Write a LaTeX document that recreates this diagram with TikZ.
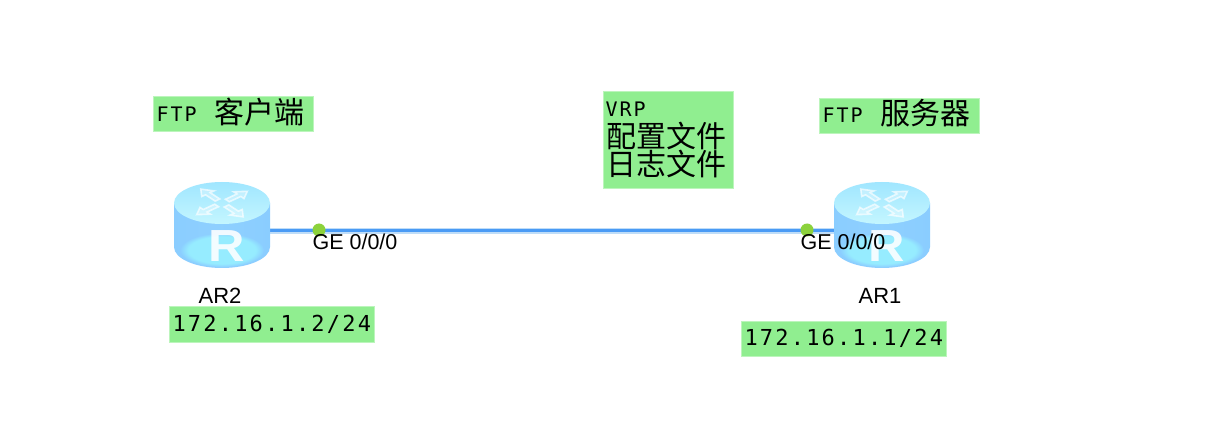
\documentclass[tikz,border=0pt]{standalone}
\usepackage{fontspec}
\usetikzlibrary{fadings}
\setmainfont{Liberation Sans}
\newfontfamily\cjk{Noto Sans CJK SC}
\newfontfamily\mono[LetterSpace=10]{DejaVu Sans Mono}
\definecolor{lab}{HTML}{90EE90}
\definecolor{portgreen}{HTML}{8CD23C}
\definecolor{linkblue}{HTML}{4A9BF5}
\definecolor{linkpale}{HTML}{BFDDF8}
\definecolor{bodyedge}{HTML}{B4E4FF}
\definecolor{bodymid}{HTML}{88CCFF}
\definecolor{bodyglow}{HTML}{96ECFF}
\definecolor{topdark}{HTML}{A0E6FF}
\definecolor{toplight}{HTML}{C4F6FF}
\pgfdeclarehorizontalshading{routerbody}{96bp}{
  color(0bp)=(bodyedge); color(8bp)=(bodymid); color(48bp)=(bodymid!85!bodyedge); color(84bp)=(bodymid); color(96bp)=(bodyedge)}
\tikzset{
  x=1pt,y=-1pt,
  tag/.style={fill=lab,draw=lab!60!white,line width=1pt,inner sep=0pt,anchor=north west,text=black},
  port/.style={circle,fill=portgreen,inner sep=0pt,minimum size=13pt},
  portlabel/.style={inner sep=0pt,font=\fontsize{21.5}{21.5}\selectfont,text=black},
  devlabel/.style={inner sep=0pt,font=\fontsize{22}{22}\selectfont,text=black},
  routerbox/.style={inner sep=0pt,minimum width=96pt,minimum height=2pt},
  routermark/.style={fill=white,fill opacity=.3,draw=white,draw opacity=.65,line width=1.6pt,line join=miter},
  routerletter/.style={inner sep=0pt,text=white,text opacity=.88,transform shape,xscale=1.12,font=\bfseries\fontsize{45}{45}\selectfont},
}
\newcommand{\routericon}[1]{%
\begin{scope}[shift={(#1,0)}]
  \shade[shading=routerbody]
    (-48,203) -- (-48,247) arc[start angle=180,end angle=360,x radius=48,y radius=-21] -- (48,203) -- cycle;
  \fill[bodyglow,path fading=circle with fuzzy edge 20 percent]
    (0,250) ellipse[x radius=42,y radius=17];
  \shade[top color=topdark,bottom color=toplight]
    (0,203) ellipse[x radius=48,y radius=21];
  \foreach \a in {40,130,220,310}{
    \begin{scope}[shift={(0,203)},yscale=.55,rotate=\a]
      \draw[routermark] (7,-3) -- (22,-3) -- (22,-8) -- (33,0) -- (22,8) -- (22,3) -- (7,3) -- cycle;
    \end{scope}}
\end{scope}}
\begin{document}
\begin{tikzpicture}
\useasboundingbox (0,0) rectangle (1218,430);
\fill[white] (0,0) rectangle (1218,430);
\node[routerbox] (r2) at (222,231) {};
\node[routerbox] (r1) at (882,231) {};
\draw[linkpale,line width=6pt] (r2) -- (r1);
\draw[linkblue,line width=3pt] (r2) -- (r1);
\routericon{222}
\routericon{882}
\node[routerletter] (r2m) at (226.5,246) {R};
\node[routerletter] (r1m) at (886.5,246) {R};
\node[port] (p2) at (319,230) {};
\node[port] (p1) at (807,230) {};
\node[portlabel] (p2l) at (355,242) {GE 0/0/0};
\node[portlabel] (p1l) at (843,242) {GE 0/0/0};
\node[devlabel] (n2) at (220,296) {AR2};
\node[devlabel] (n1) at (880,296) {AR1};
\node[tag,minimum width=160pt,minimum height=35pt,text width=160pt] (t2) at (153,96.5) {\raisebox{8pt}{\hspace{3pt}\raisebox{2pt}{\mono\fontsize{20}{20}\selectfont FTP}\hspace{18pt}\cjk\fontsize{30}{30}\selectfont 客户端}};
\node[tag,minimum width=160pt,minimum height=35pt,text width=160pt] (t1) at (819,98) {\raisebox{8pt}{\hspace{3pt}\raisebox{2pt}{\mono\fontsize{20}{20}\selectfont FTP}\hspace{18pt}\cjk\fontsize{30}{30}\selectfont 服务器}};
\node[tag,minimum width=130pt,minimum height=97pt,text width=130pt,align=left] (t3) at (603,91) {\raisebox{2pt}{\hspace{2pt}\mono\fontsize{20}{22}\selectfont VRP}\\[-1pt]\hspace{3pt}\cjk\fontsize{30}{30}\selectfont 配置文件\\[0pt]\hspace{3pt}\cjk\fontsize{30}{30}\selectfont 日志文件};
\node[tag,minimum width=205pt,minimum height=35pt,text width=205pt] (ip2) at (169,306.5) {\raisebox{3pt}{\hspace{3pt}\mono\fontsize{22}{22}\selectfont 172.16.1.2/24}};
\node[tag,minimum width=205pt,minimum height=35pt,text width=205pt] (ip1) at (741,320.5) {\raisebox{3pt}{\hspace{3pt}\mono\fontsize{22}{22}\selectfont 172.16.1.1/24}};
\end{tikzpicture}
\end{document}
